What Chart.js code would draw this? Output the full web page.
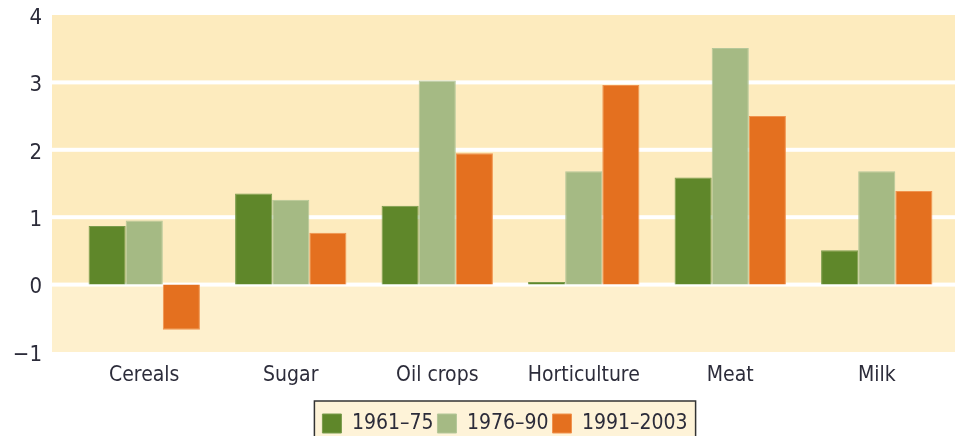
<!DOCTYPE html>
<html lang="en-US">

<head>
    <meta charset="UTF-8">
    <title>growth chart</title>
    <style>
        html, body { margin: 0; padding: 0; background: #ffffff; }
        #chartBox { width: 955px; height: 436px; }
    </style>
</head>

<body>
    <div id="chartBox">
        <canvas id="growthChart"></canvas>
    </div>
    <script src="https://cdn.jsdelivr.net/npm/chart.js"></script>
    <script>
        // chart data
        const categories = ['Cereals', 'Sugar', 'Oil crops', 'Horticulture', 'Meat', 'Milk']
        const period1 = [0.87, 1.35, 1.17, 0.04, 1.59, 0.51]   // 1961–75
        const period2 = [0.95, 1.26, 3.03, 1.68, 3.51, 1.68]   // 1976–90
        const period3 = [-0.67, 0.77, 1.95, 2.96, 2.50, 1.39]  // 1991–2003
        const yTicks = [-1, 0, 1, 2, 3, 4]

        const textColor = '#2c2c3a'
        const fontName = "'Liberation Sans Narrow', 'DejaVu Sans Condensed', sans-serif"

        function legendFrame(chart) {
            const lg = chart.legend
            const items = lg.legendHitBoxes
            if (!items || !items.length) return null
            const first = items[0]
            const last = items[items.length - 1]
            const x0 = first.left - 8
            const x1 = last.left + last.width + 8
            const y0 = lg.top - 8
            return { x: x0, y: y0, w: x1 - x0, h: chart.height - y0 + 5 }
        }

        // cream background bands + thick white grid lines, wider than the chart area
        const bandPlugin = {
            id: 'bands',
            afterLayout(chart) {
                // nudge the legend so it sits under the middle of the plot
                const lg = chart.legend
                const dx = 30
                const dy = 8
                lg.left += dx
                lg.right += dx
                lg.top += dy
                lg.bottom += dy
                if (lg.legendHitBoxes) lg.legendHitBoxes.forEach(h => { h.left += dx; h.top += dy })
            },
            beforeDraw(chart) {
                const f = legendFrame(chart)
                if (!f) return
                chart.ctx.save()
                chart.ctx.fillStyle = '#fef3d8'
                chart.ctx.fillRect(f.x, f.y, f.w, f.h)
                chart.ctx.restore()
            },
            beforeDatasetsDraw(chart) {
                const ctx = chart.ctx
                const y = chart.scales.y
                const left = chart.chartArea.left - 19
                const right = chart.width
                const top = y.getPixelForValue(4)
                const zero = y.getPixelForValue(0)
                const bottom = y.getPixelForValue(-1)
                ctx.save()
                ctx.fillStyle = '#fdebbe'
                ctx.fillRect(left, top, right - left, zero - top)
                ctx.fillStyle = '#fef0cd'
                ctx.fillRect(left, zero, right - left, bottom - zero)
                ctx.fillStyle = '#ffffff'
                yTicks.forEach(v => {
                    if (v > -1 && v < 4) {
                        const py = y.getPixelForValue(v)
                        ctx.fillRect(left, py - 2, right - left, 4)
                    }
                })
                ctx.restore()
            },
            afterDraw(chart) {
                const f = legendFrame(chart)
                if (!f) return
                chart.ctx.save()
                chart.ctx.strokeStyle = '#333333'
                chart.ctx.lineWidth = 1.5
                chart.ctx.strokeRect(f.x, f.y, f.w, f.h)
                chart.ctx.restore()
            }
        }

        const ctx = document.getElementById('growthChart').getContext('2d')
        const growthChart = new Chart(ctx, {
            type: 'bar',
            data: {
                labels: categories,
                datasets: [
                    {
                        label: '1961–75',
                        data: period1,
                        backgroundColor: '#5f872a',
                        borderColor: '#7a9c4c',
                        borderWidth: 1
                    },
                    {
                        label: '1976–90',
                        data: period2,
                        backgroundColor: '#a5ba84',
                        borderColor: '#b5c799',
                        borderWidth: 1
                    },
                    {
                        label: '1991–2003',
                        data: period3,
                        backgroundColor: '#e4701f',
                        borderColor: '#f0934f',
                        borderWidth: 1
                    }]
            },
            plugins: [bandPlugin],
            options: {
                responsive: true,
                maintainAspectRatio: false,
                animation: false,
                layout: {
                    padding: { left: 0, right: 5, top: 15, bottom: 0 }
                },
                datasets: {
                    bar: {
                        barPercentage: 1,
                        categoryPercentage: 0.76
                    }
                },
                plugins: {
                    tooltip: { enabled: false },
                    legend: {
                        position: 'bottom',
                        labels: {
                            boxWidth: 19,
                            boxHeight: 19,
                            padding: 4,
                            color: textColor,
                            font: { family: fontName, size: 21 }
                        }
                    }
                },
                scales: {
                    x: {
                        afterFit: scale => { scale.height = 49 },
                        grid: { display: false },
                        border: { display: false },
                        ticks: {
                            color: textColor,
                            padding: 3,
                            font: { family: fontName, size: 21 }
                        }
                    },
                    y: {
                        min: -1,
                        max: 4,
                        afterFit: scale => {
                            // wide gap between labels and plot, without the extra top/bottom margin
                            scale.width = 71
                            scale.paddingTop = 0
                            scale.paddingBottom = 0
                        },
                        afterBuildTicks: scale => {
                            scale.ticks = yTicks.map(v => ({ value: v }))
                        },
                        grid: { display: false },
                        border: { display: false },
                        ticks: {
                            color: textColor,
                            padding: 21,
                            labelOffset: 3,
                            font: { family: fontName, size: 22 },
                            callback: v => (v < 0 ? '\u2212' + Math.abs(v) : String(v))
                        }
                    }
                }
            }
        })
    </script>
</body>

</html>
